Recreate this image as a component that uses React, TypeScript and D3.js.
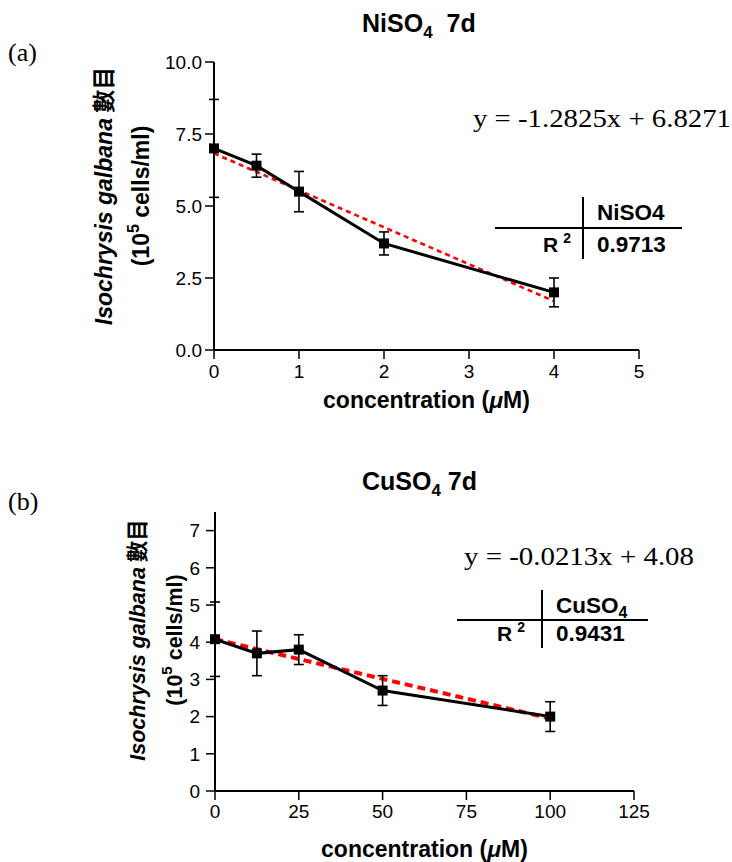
import React from "react";
import * as d3 from "d3";

// ---- Data ----
const niConc = [0, 0.5, 1, 2, 4];
const niMean = [7.0, 6.4, 5.5, 3.7, 2.0];
const niErr = [1.7, 0.4, 0.7, 0.4, 0.5];
const niFit = { slope: -1.2825, intercept: 6.8271, r2: "0.9713" };
const niXTicks = [0, 1, 2, 3, 4, 5];
const niYTicks = [0, 2.5, 5, 7.5, 10];

const cuConc = [0, 12.5, 25, 50, 100];
const cuMean = [4.08, 3.7, 3.8, 2.7, 2.0];
const cuErr = [1.0, 0.6, 0.4, 0.4, 0.4];
const cuFit = { slope: -0.0213, intercept: 4.08, r2: "0.9431" };
const cuXTicks = [0, 25, 50, 75, 100, 125];
const cuYTicks = [0, 1, 2, 3, 4, 5, 6, 7];

const SANS = "'Liberation Sans', Arial, sans-serif";
const SERIF = "'Liberation Serif', 'Times New Roman', serif";
const CJK = "'Noto Sans CJK TC', 'Noto Sans CJK SC', sans-serif";

type PanelCfg = {
  conc: number[];
  mean: number[];
  err: number[];
  fit: { slope: number; intercept: number; r2: string };
  xTicks: number[];
  yTicks: number[];
  yFmt: (v: number) => string;
  xDomain: [number, number];
  yDomain: [number, number];
  left: number;
  right: number;
  top: number;
  bottom: number;
  letter: string;
  letterY: number;
  titleMain: string;
  titleTail: string;
  titleY: number;
  eq: string;
  eqX: number;
  eqY: number;
  eqLen: number;
  tbl: {
    x1: number;
    x2: number;
    hy: number;
    vx: number;
    vy1: number;
    vy2: number;
    head: string;
    headSub: boolean;
    headY: number;
    valY: number;
    rEnd: number;
  };
  ylab1X: number;
  ylab2X: number;
  ylabY: number;
  ylabSize: number;
  yTickLabelX: number;
  xTickY: number;
  xLabY: number;
  dashW: number;
  dash: string;
};

function Panel({ p }: { p: PanelCfg }) {
  const x = d3.scaleLinear().domain(p.xDomain).range([p.left, p.right]);
  const y = d3.scaleLinear().domain(p.yDomain).range([p.bottom, p.top]);
  const pts = p.conc.map((c, i) => [c, p.mean[i]] as [number, number]);
  const line = d3
    .line<[number, number]>()
    .x((d) => x(d[0]))
    .y((d) => y(d[1]));
  const xMax = d3.max(p.conc) as number;
  const fitPts: [number, number][] = [
    [0, p.fit.intercept],
    [xMax, p.fit.slope * xMax + p.fit.intercept],
  ];
  const cap = 5;
  const ms = 10;
  const t = p.tbl;
  return (
    <g>
      <text x={8} y={p.letterY} fontFamily={SERIF} fontSize={26}>
        {p.letter}
      </text>
      <text
        x={362}
        y={p.titleY}
        fontFamily={SANS}
        fontSize={25}
        fontWeight="bold"
        style={{ whiteSpace: "pre" }}
      >
        {p.titleMain}
        <tspan fontSize={17} dy={6}>
          4
        </tspan>
        <tspan dy={-6}>{p.titleTail}</tspan>
      </text>
      <line x1={p.left} x2={p.left} y1={p.bottom} y2={p.top} stroke="#000" strokeWidth={2} />
      <line x1={p.left} x2={p.right} y1={p.bottom} y2={p.bottom} stroke="#000" strokeWidth={2} />
      {p.yTicks.map((v) => (
        <g key={"y" + v}>
          <line x1={p.left - 9} x2={p.left} y1={y(v)} y2={y(v)} stroke="#000" strokeWidth={1.5} />
          <text
            x={p.yTickLabelX}
            y={y(v)}
            dy="0.36em"
            textAnchor="end"
            fontFamily={SANS}
            fontSize={19}
          >
            {p.yFmt(v)}
          </text>
        </g>
      ))}
      {p.xTicks.map((v) => (
        <g key={"x" + v}>
          <line x1={x(v)} x2={x(v)} y1={p.bottom} y2={p.bottom + 9} stroke="#000" strokeWidth={1.5} />
          <text x={x(v)} y={p.xTickY} textAnchor="middle" fontFamily={SANS} fontSize={19}>
            {v}
          </text>
        </g>
      ))}
      <text
        x={(p.left + p.right) / 2}
        y={p.xLabY}
        textAnchor="middle"
        fontFamily={SANS}
        fontSize={23}
        fontWeight="bold"
      >
        concentration (<tspan fontStyle="italic">μ</tspan>M)
      </text>
      <text
        transform={`translate(${p.ylab1X},${p.ylabY}) rotate(-90)`}
        textAnchor="middle"
        fontFamily={SANS}
        fontSize={p.ylabSize}
        fontWeight="bold"
        style={{ whiteSpace: "pre" }}
      >
        <tspan fontStyle="italic">Isochrysis galbana</tspan>
        <tspan fontFamily={CJK}>{" 數目"}</tspan>
      </text>
      <text
        transform={`translate(${p.ylab2X},${p.ylabY}) rotate(-90)`}
        textAnchor="middle"
        fontFamily={SANS}
        fontSize={p.ylabSize}
        fontWeight="bold"
      >
        (10
        <tspan fontSize={p.ylabSize * 0.7} dy={-p.ylabSize * 0.45}>
          5
        </tspan>
        <tspan dy={p.ylabSize * 0.45}> cells/ml)</tspan>
      </text>
      <path
        d={line(fitPts) || ""}
        fill="none"
        stroke="#ff0000"
        strokeWidth={p.dashW}
        strokeDasharray={p.dash}
      />
      <path d={line(pts) || ""} fill="none" stroke="#000" strokeWidth={3} />
      {pts.map((d, i) => {
        const cx = x(d[0]);
        const hi = y(d[1] + p.err[i]);
        const lo = y(d[1] - p.err[i]);
        return (
          <g key={"e" + i} stroke="#000" strokeWidth={1.6}>
            <line x1={cx} x2={cx} y1={hi} y2={lo} />
            <line x1={cx - cap} x2={cx + cap} y1={hi} y2={hi} />
            <line x1={cx - cap} x2={cx + cap} y1={lo} y2={lo} />
          </g>
        );
      })}
      {pts.map((d, i) => (
        <rect
          key={"m" + i}
          x={x(d[0]) - ms / 2}
          y={y(d[1]) - ms / 2}
          width={ms}
          height={ms}
          fill="#000"
        />
      ))}
      <text
        x={p.eqX}
        y={p.eqY}
        fontFamily={SERIF}
        fontSize={25}
        textLength={p.eqLen}
        lengthAdjust="spacingAndGlyphs"
        style={{ whiteSpace: "pre" }}
      >
        {p.eq}
      </text>
      <line x1={t.x1} x2={t.x2} y1={t.hy} y2={t.hy} stroke="#000" strokeWidth={2} />
      <line x1={t.vx} x2={t.vx} y1={t.vy1} y2={t.vy2} stroke="#000" strokeWidth={2} />
      <text x={t.vx + 14} y={t.headY} fontFamily={SANS} fontSize={22.5} fontWeight="bold">
        {t.headSub ? (
          <>
            CuSO<tspan fontSize={16} dy={5}>4</tspan>
          </>
        ) : (
          t.head
        )}
      </text>
      <text x={t.vx + 14} y={t.valY} fontFamily={SANS} fontSize={22.5} fontWeight="bold">
        {p.fit.r2}
      </text>
      <text x={t.rEnd} y={t.valY} textAnchor="end" fontFamily={SANS} fontSize={21} fontWeight="bold">
        R<tspan fontSize={14} dx={5} dy={-9}>2</tspan>
      </text>
    </g>
  );
}

const panelA: PanelCfg = {
  conc: niConc,
  mean: niMean,
  err: niErr,
  fit: niFit,
  xTicks: niXTicks,
  yTicks: niYTicks,
  yFmt: (v) => v.toFixed(1),
  xDomain: [0, 5],
  yDomain: [0, 10],
  left: 214,
  right: 639,
  top: 62,
  bottom: 350,
  letter: "(a)",
  letterY: 61,
  titleMain: "NiSO",
  titleTail: "  7d",
  titleY: 32,
  eq: "y = -1.2825x + 6.8271",
  eqX: 473,
  eqY: 127,
  eqLen: 258,
  tbl: {
    x1: 495,
    x2: 682,
    hy: 228,
    vx: 583,
    vy1: 197,
    vy2: 259,
    head: "NiSO4",
    headSub: false,
    headY: 220,
    valY: 252,
    rEnd: 571,
  },
  ylab1X: 112,
  ylab2X: 149,
  ylabY: 196,
  ylabSize: 23,
  yTickLabelX: 202,
  xTickY: 378,
  xLabY: 408,
  dashW: 2.6,
  dash: "5,4",
};

const panelB: PanelCfg = {
  conc: cuConc,
  mean: cuMean,
  err: cuErr,
  fit: cuFit,
  xTicks: cuXTicks,
  yTicks: cuYTicks,
  yFmt: (v) => String(v),
  xDomain: [0, 125],
  yDomain: [0, 7.5],
  left: 215,
  right: 634,
  top: 512,
  bottom: 791,
  letter: "(b)",
  letterY: 510,
  titleMain: "CuSO",
  titleTail: " 7d",
  titleY: 490,
  eq: "y = -0.0213x + 4.08",
  eqX: 464,
  eqY: 565,
  eqLen: 230,
  tbl: {
    x1: 457,
    x2: 648,
    hy: 620,
    vx: 542,
    vy1: 590,
    vy2: 648,
    head: "CuSO4",
    headSub: true,
    headY: 613,
    valY: 641,
    rEnd: 525,
  },
  ylab1X: 145,
  ylab2X: 182,
  ylabY: 640,
  ylabSize: 21.5,
  yTickLabelX: 200,
  xTickY: 818,
  xLabY: 857,
  dashW: 4,
  dash: "8,5",
};

export default function App() {
  return (
    <svg
      width={732}
      height={862}
      viewBox="0 0 732 862"
      style={{ position: "absolute", left: 0, top: 0, background: "#fff" }}
    >
      <rect width={732} height={862} fill="#fff" />
      <Panel p={panelA} />
      <Panel p={panelB} />
    </svg>
  );
}
